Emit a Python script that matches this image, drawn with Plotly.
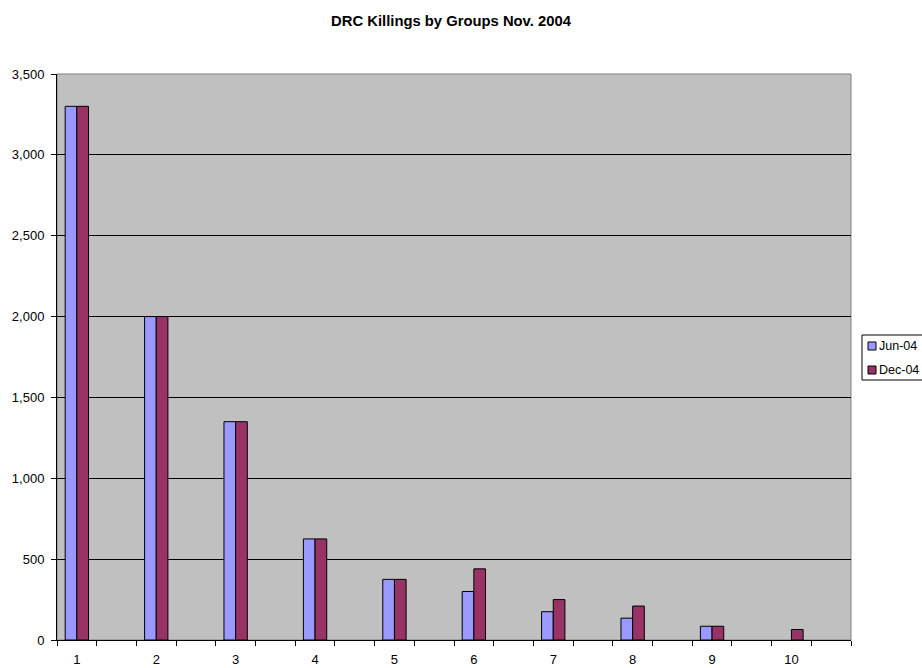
import plotly.graph_objects as go

groups = [1, 2, 3, 4, 5, 6, 7, 8, 9, 10]
group_labels = ["1", "2", "3", "4", "5", "6", "7", "8", "9", "10"]
jun_04 = [3300, 2000, 1350, 625, 375, 300, 175, 135, 85, None]
dec_04 = [3300, 2000, 1350, 625, 375, 440, 250, 210, 85, 65]
y_ticks = [0, 500, 1000, 1500, 2000, 2500, 3000, 3500]
y_labels = ["0", "500", "1,000", "1,500", "2,000", "2,500", "3,000", "3,500"]
series_names = ["Jun-04", "Dec-04"]
series_colors = ["#9999FF", "#993366"]

FONT = "Liberation Sans, Arial, sans-serif"

W, H = 922, 668
L, T, PW, PH = 57, 74, 794, 566

fig = go.Figure()
for name, vals, col in zip(series_names, [jun_04, dec_04], series_colors):
    fig.add_trace(go.Bar(x=groups, y=vals, name=name,
                         marker=dict(color=col, line=dict(color="black", width=1))))

fig.update_layout(
    width=W, height=H,
    margin=dict(l=L, r=W - L - PW, t=T, b=H - T - PH, autoexpand=False),
    paper_bgcolor="white",
    plot_bgcolor="#C0C0C0",
    barmode="group",
    bargap=0.706,
    bargroupgap=0,
    font=dict(family=FONT, size=13, color="black"),
    title=dict(text="<b>DRC Killings by Groups Nov. 2004</b>", xref="container", x=451 / W,
               xanchor="center", yref="container", y=1 - 21 / H, yanchor="middle",
               font=dict(size=14.8, family=FONT)),
    showlegend=False,
)

fig.update_xaxes(
    range=[0.75, 10.75],
    tickvals=groups, ticktext=group_labels, ticks="",
    ticklabelstandoff=7,
    showgrid=False, zeroline=False,
    showline=True, linecolor="black", linewidth=1, mirror=False,
    tickfont=dict(size=13, family=FONT),
    minor=dict(ticks="outside", tick0=0.75, dtick=0.5, ticklen=5, tickcolor="black", showgrid=False),
)
fig.update_yaxes(
    range=[0, 3500],
    tickvals=y_ticks, ticktext=y_labels,
    ticks="outside", ticklen=5, tickcolor="black",
    ticklabelstandoff=4,
    showgrid=True, gridcolor="black", gridwidth=1,
    zeroline=False,
    showline=True, linecolor="black", linewidth=1,
    tickfont=dict(size=13, family=FONT),
)

fig.add_shape(type="rect", xref="paper", yref="paper", x0=0, y0=0, x1=1, y1=1,
              line=dict(color="#808080", width=1), layer="below")

# Excel-style legend box to the right of the plot area
def px_x(sx):
    return (sx - L) / PW

def px_y(sy):
    return (T + PH - sy) / PH

fig.add_shape(type="rect", xref="paper", yref="paper",
              x0=px_x(862), x1=px_x(940), y0=px_y(380), y1=px_y(335),
              line=dict(color="black", width=1), fillcolor="white")
for i, (name, col) in enumerate(zip(series_names, series_colors)):
    cy = 346 + 24 * i
    fig.add_shape(type="rect", xref="paper", yref="paper",
                  x0=px_x(868), x1=px_x(876), y0=px_y(cy + 4), y1=px_y(cy - 4),
                  line=dict(color="black", width=1), fillcolor=col)
    fig.add_annotation(xref="paper", yref="paper", x=px_x(877), y=px_y(cy),
                       xanchor="left", yanchor="middle", text=name, showarrow=False,
                       font=dict(size=12.5, family=FONT, color="black"))

fig.write_html("out.html", config={"displayModeBar": False},
               post_script="document.body.style.margin='0';")
